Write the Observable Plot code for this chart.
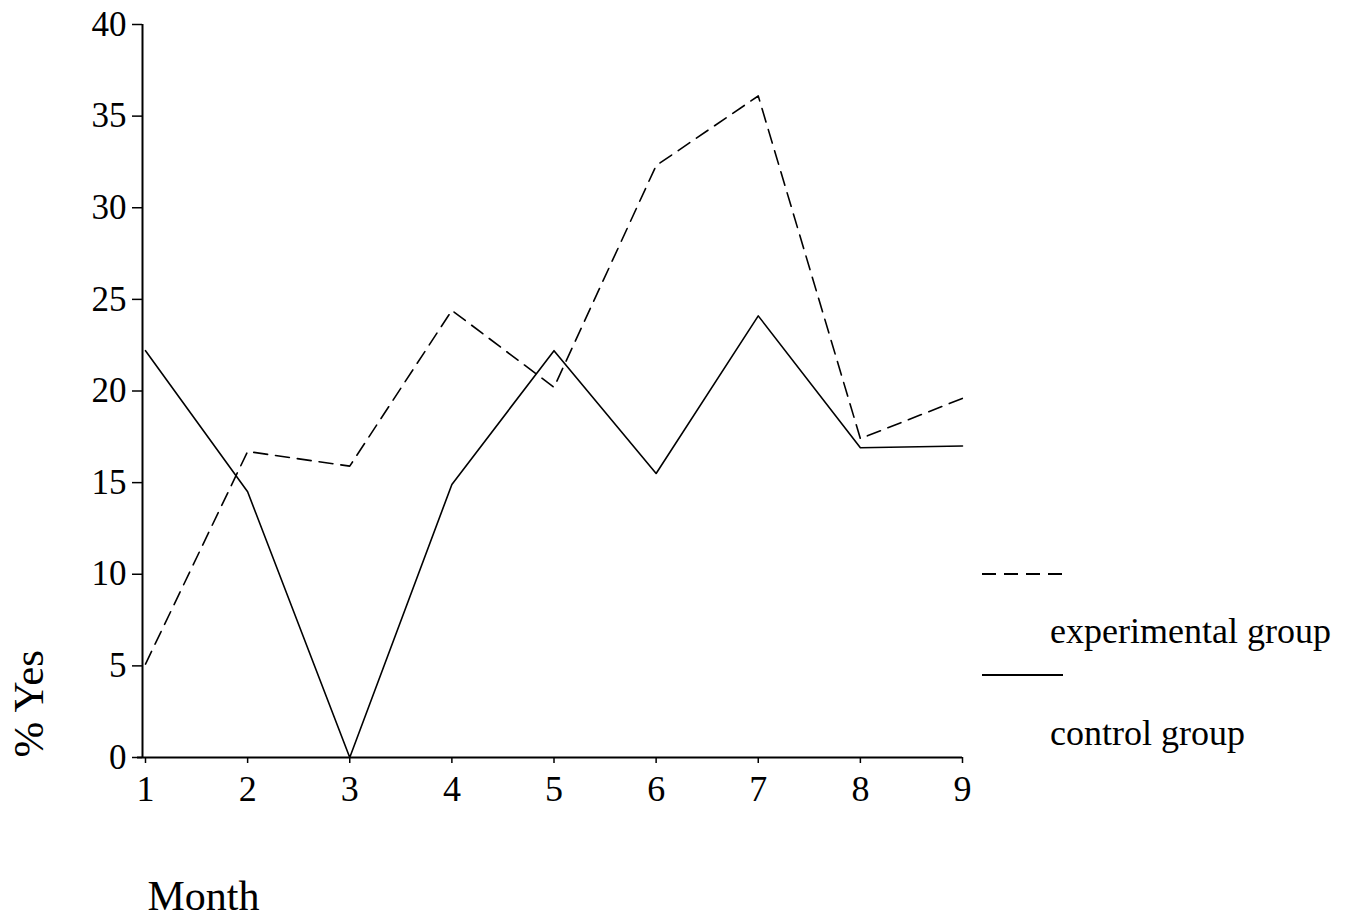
<!DOCTYPE html>
<html>
<head>
<meta charset="utf-8">
<script src="https://cdn.jsdelivr.net/npm/d3@7"></script>
<script src="https://cdn.jsdelivr.net/npm/@observablehq/plot@0.6"></script>
<style>
  html, body { margin: 0; padding: 0; background: #fff; }
  #wrap { position: relative; width: 1353px; height: 921px; overflow: hidden; }
  #legend { position: absolute; left: 0; top: 0; pointer-events: none; }
</style>
</head>
<body>
<div id="wrap"></div>
<script>
// ---- data ----
const months = [1, 2, 3, 4, 5, 6, 7, 8, 9];
const experimental = [5.1, 16.7, 15.9, 24.4, 20.2, 32.3, 36.1, 17.4, 19.6];
const control = [22.2, 14.5, 0, 14.9, 22.2, 15.5, 24.1, 16.9, 17.0];
const yTicks = [0, 5, 10, 15, 20, 25, 30, 35, 40];
const groups = ["experimental group", "control group"];
const xTitle = "Month";
const yTitle = "% Yes";

const expRows = months.map((m, i) => ({month: m, value: experimental[i], group: groups[0]}));
const ctlRows = months.map((m, i) => ({month: m, value: control[i], group: groups[1]}));

const FONT = "'Liberation Serif', 'Times New Roman', Times, serif";

const chart = Plot.plot({
  width: 1353,
  height: 921,
  marginLeft: 145,
  marginRight: 391,
  marginTop: 24,
  marginBottom: 164,
  style: {fontFamily: FONT, color: "#000", background: "#fff", overflow: "visible"},
  x: {domain: [1, 9]},
  y: {domain: [0, 40]},
  marks: [
    Plot.axisY({ticks: yTicks, tickSize: 10, tickPadding: 6, fontSize: 35, label: null, dx: -3, strokeWidth: 1.5}),
    Plot.axisX({ticks: months, tickSize: 6, tickPadding: 12, fontSize: 36, label: null, strokeWidth: 1.5}),
    Plot.ruleX([1], {dx: -3, stroke: "#000", strokeWidth: 2}),
    Plot.ruleY([0], {stroke: "#000", strokeWidth: 2, insetLeft: -8}),
    Plot.line(expRows, {x: "month", y: "value", stroke: "#000", strokeWidth: 1.6, strokeDasharray: "14,8"}),
    Plot.line(ctlRows, {x: "month", y: "value", stroke: "#000", strokeWidth: 1.6}),
    Plot.text([yTitle], {frameAnchor: "bottom-left", rotate: -90, textAnchor: "start", lineAnchor: "middle",
      dx: -116, dy: 0, fontSize: 43, fill: "#000"}),
    Plot.text([xTitle], {frameAnchor: "bottom-left", textAnchor: "start", lineAnchor: "middle",
      dx: 2, dy: 139, fontSize: 42, fill: "#000"})
  ]
});

const wrap = document.getElementById("wrap");
wrap.appendChild(chart);

// ---- legend overlay ----
const legendItems = [
  {label: groups[0], dash: "14,8", lineY: 574, textY: 643},
  {label: groups[1], dash: null, lineY: 675, textY: 745}
];
const leg = d3.select(wrap).append("svg")
  .attr("id", "legend")
  .attr("width", 1353).attr("height", 921)
  .style("font-family", FONT);
for (const it of legendItems) {
  leg.append("line")
    .attr("x1", 982).attr("x2", 1063)
    .attr("y1", it.lineY).attr("y2", it.lineY)
    .attr("stroke", "#000").attr("stroke-width", 1.8)
    .attr("stroke-dasharray", it.dash);
  leg.append("text")
    .attr("x", 1050).attr("y", it.textY)
    .attr("font-size", 36).attr("fill", "#000")
    .text(it.label);
}
</script>
</body>
</html>
